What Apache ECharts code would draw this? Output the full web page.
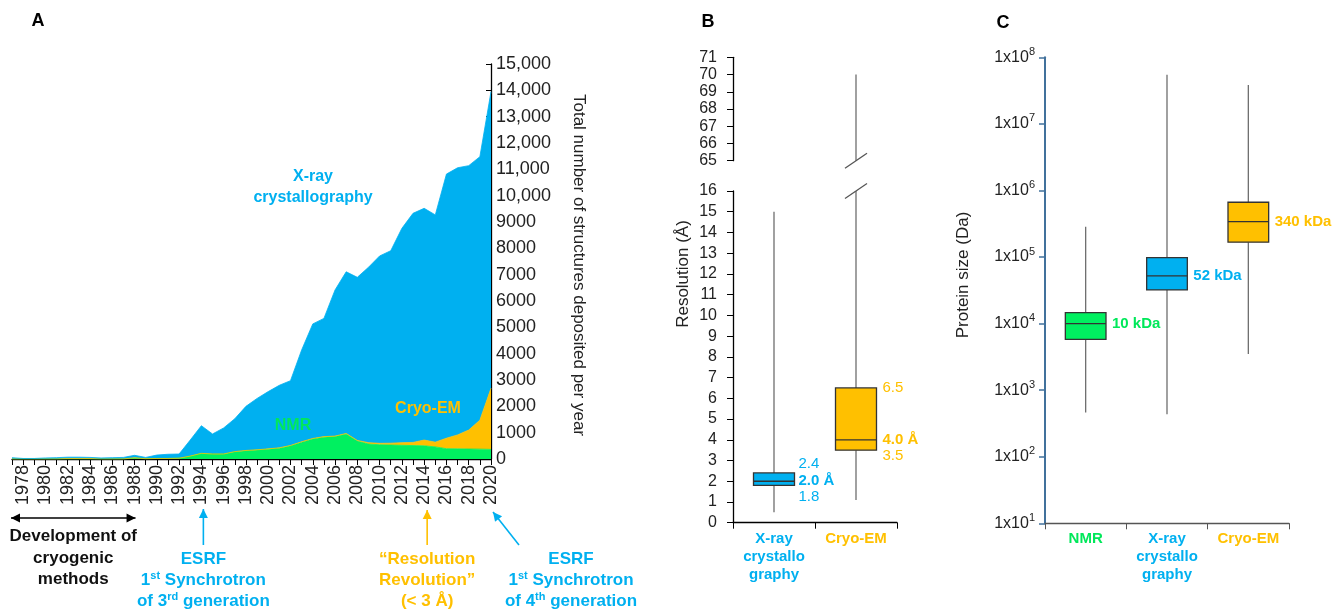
<!DOCTYPE html>
<html><head><meta charset="utf-8">
<script src="https://cdn.jsdelivr.net/npm/echarts@6/dist/echarts.min.js"></script>
<style>html,body{margin:0;padding:0;background:#fff}#c{width:1340px;height:614px}</style>
</head><body><div id="c"></div>
<script>
// ---------- Panel A data (structures deposited per year) ----------
const years = ['1977','1978','1979','1980','1981','1982','1983','1984','1985','1986','1987','1988','1989','1990','1991','1992','1993','1994','1995','1996','1997','1998','1999','2000','2001','2002','2003','2004','2005','2006','2007','2008','2009','2010','2011','2012','2013','2014','2015','2016','2017','2018','2019','2020'];
const nmr  = [0,0,0,0,0,0,0,0,0,0,0,30,10,20,20,30,110,215,190,190,280,315,340,370,410,500,640,760,830,850,950,680,570,540,530,520,510,500,460,390,385,380,375,365];
const cryo = [0,0,0,0,0,15,15,15,0,0,0,20,0,0,0,0,0,0,0,0,0,10,10,15,15,15,15,20,20,20,20,25,50,55,70,100,120,220,180,400,530,720,1100,2320];
const xray = [50,20,20,40,50,55,55,45,40,50,60,90,50,130,160,160,610,1050,760,990,1250,1675,1950,2175,2375,2460,3485,4350,4490,5550,6140,6195,6660,7115,7310,8140,8700,8800,8630,10030,10145,10040,10005,11265];

// ---------- Panel B data (resolution, Å): [min, q1, median, q3, max] ----------
const resCategories = ['X-ray\ncrystallo\ngraphy', 'Cryo-EM'];
const resXray = [0.5, 1.8, 2.0, 2.4, 15];
const resCryo = [1.1, 3.5, 4.0, 6.5, 70];
const resBreak = [16, 65];

// ---------- Panel C data (protein size, Da): [min, q1, median, q3, max] ----------
const sizeCategories = ['NMR', 'X-ray\ncrystallo\ngraphy', 'Cryo-EM'];
const sizeNmr  = [460, 5800, 10000, 14600, 286000];
const sizeXray = [436, 32000, 52000, 98000, 54800000];
const sizeCryo = [3500, 167000, 340000, 665000, 38400000];

const FONT = '"Liberation Sans", Arial, sans-serif';
const BLUE = '#00B0F0', GREEN = '#00F060', ORANGE = '#FFC000';
const GREEN_T = '#00E85A';
const resColors = [BLUE, ORANGE];
const sizeColors = [GREEN_T, BLUE, ORANGE];
const sizeFill = [GREEN, BLUE, ORANGE];

function boxRender(fills, yMax, labelFn) {
  return function (params, api) {
    const i = api.value(0);
    const v = [1, 2, 3, 4, 5].map(k => api.value(k));
    const cx = api.coord([i, v[2]])[0];
    const bw = api.size([1, v[2]])[0] * 0.5;
    const py = val => api.coord([i, val])[1];
    const top = yMax != null ? Math.min(v[4], yMax) : v[4];
    const wh = {stroke: '#6e6e6e', lineWidth: 1.3};
    const ch = [
      {type: 'line', shape: {x1: cx, y1: py(v[0]), x2: cx, y2: py(v[1])}, style: wh},
      {type: 'line', shape: {x1: cx, y1: py(v[3]), x2: cx, y2: py(top)}, style: wh},
      {type: 'rect', shape: {x: cx - bw / 2, y: py(v[3]), width: bw, height: py(v[1]) - py(v[3])},
       style: {fill: fills[i], stroke: '#333', lineWidth: 1.3}},
      {type: 'line', shape: {x1: cx - bw / 2, y1: py(v[2]), x2: cx + bw / 2, y2: py(v[2])}, style: {stroke: '#333', lineWidth: 1.3}}
    ];
    if (yMax != null && v[4] > yMax) {
      const y0 = py(yMax);
      ch.push({type: 'line', shape: {x1: cx - 11, y1: y0 + 7.5, x2: cx + 11, y2: y0 - 7.5}, style: {stroke: '#555', lineWidth: 1.3}});
    }
    labelFn(v, py, cx + bw / 2, i).forEach(l => ch.push({
      type: 'text', x: l.x, y: l.y,
      style: {text: l.text, fill: l.color, fontSize: 15, fontWeight: l.bold ? 'bold' : 'normal', fontFamily: FONT, align: 'left', verticalAlign: 'middle'}
    }));
    return {type: 'group', children: ch};
  };
}

function resLabels(v, py, right, i) {
  const c = resColors[i];
  const ym = py(v[2]);
  const x = right + (i === 0 ? 4 : 6);
  return [
    {text: v[3].toFixed(1), x, y: Math.min(py(v[3]), ym - 17), color: c},
    {text: v[2].toFixed(1) + ' Å', x, y: ym, color: c, bold: true},
    {text: v[1].toFixed(1), x, y: Math.max(py(v[1]), ym + 16), color: c}
  ];
}
function sizeLabels(v, py, right, i) {
  return [{text: Math.round(v[2] / 1000) + ' kDa', x: right + 6, y: py(v[2]), color: sizeColors[i], bold: true}];
}

const resData = [resXray, resCryo].map((d, i) => [i].concat(d));
const sizeData = [sizeNmr, sizeXray, sizeCryo].map((d, i) => [i].concat(d));
const resTopData = resData.filter(d => d[5] > resBreak[1]).map(d => [d[0], d[5]]);

const axisLbl = {fontFamily: FONT, color: '#222'};

const option = {
  animation: false,
  textStyle: {fontFamily: FONT},
  grid: [
    {left: 12, top: 64, width: 479, height: 395},
    {left: 733, top: 57.3, width: 164, height: 103.4},
    {left: 733, top: 191, width: 164, height: 331.7},
    {left: 1045, top: 57.3, width: 244, height: 466}
  ],
  xAxis: [
    {gridIndex: 0, type: 'category', data: years, boundaryGap: false,
     axisLine: {lineStyle: {color: '#000', width: 1.3}},
     axisTick: {interval: 0, length: 6, lineStyle: {color: '#000'}},
     axisLabel: Object.assign({interval: (i, v) => (+v) % 2 === 0, rotate: 90, fontSize: 18, margin: 6}, axisLbl)},
    {gridIndex: 1, type: 'category', data: resCategories, show: false},
    {gridIndex: 2, type: 'category', data: resCategories,
     axisLine: {lineStyle: {color: '#000', width: 1.3}},
     axisTick: {show: true, alignWithLabel: false, length: 6, lineStyle: {color: '#000'}},
     axisLabel: {fontFamily: FONT, fontSize: 15, fontWeight: 'bold', lineHeight: 18, margin: 7, color: (v, i) => resColors[i]}},
    {gridIndex: 3, type: 'category', data: sizeCategories,
     axisLine: {lineStyle: {color: '#555', width: 1.3}},
     axisTick: {show: true, alignWithLabel: false, length: 6, lineStyle: {color: '#555'}},
     axisLabel: {fontFamily: FONT, fontSize: 15, fontWeight: 'bold', lineHeight: 18, margin: 7, color: (v, i) => sizeColors[i]}}
  ],
  yAxis: [
    {gridIndex: 0, type: 'value', position: 'right', min: 0, max: 15000, interval: 1000,
     axisLine: {show: true, lineStyle: {color: '#000', width: 1.3}},
     axisTick: {show: true, inside: true, length: 5, lineStyle: {color: '#000'}}, splitLine: {show: false},
     axisLabel: Object.assign({fontSize: 18, margin: 5, formatter: v => v >= 10000 ? v.toLocaleString('en-US') : String(v)}, axisLbl)},
    {gridIndex: 1, type: 'value', min: resBreak[1], max: 71, interval: 1,
     axisLine: {show: true, lineStyle: {color: '#000', width: 1.3}},
     axisTick: {show: true, length: 6, lineStyle: {color: '#000'}}, splitLine: {show: false},
     axisLabel: Object.assign({fontSize: 16, margin: 16}, axisLbl)},
    {gridIndex: 2, type: 'value', min: 0, max: resBreak[0], interval: 1,
     axisLine: {show: true, lineStyle: {color: '#000', width: 1.3}},
     axisTick: {show: true, length: 6, lineStyle: {color: '#000'}}, splitLine: {show: false},
     axisLabel: Object.assign({fontSize: 16, margin: 16}, axisLbl)},
    {gridIndex: 3, type: 'log', logBase: 10, min: 10, max: 1e8, splitNumber: 7,
     axisLine: {show: true, lineStyle: {color: '#41719C', width: 2}},
     axisTick: {show: true, length: 6, lineStyle: {color: '#41719C', width: 1.5}}, splitLine: {show: false},
     axisLabel: Object.assign({fontSize: 16, lineHeight: 22, margin: 10,
       formatter: v => '1x10{sup|' + Math.round(Math.log10(v)) + '}',
       rich: {sup: {fontSize: 11, lineHeight: 11, verticalAlign: 'top', color: '#222', fontFamily: FONT}}}, axisLbl)}
  ],
  series: [
    {type: 'line', name: 'NMR', xAxisIndex: 0, yAxisIndex: 0, stack: 'pdb', data: nmr, symbol: 'none',
     lineStyle: {width: 0.8, color: GREEN}, itemStyle: {color: GREEN}, areaStyle: {color: GREEN, opacity: 1}},
    {type: 'line', name: 'Cryo-EM', xAxisIndex: 0, yAxisIndex: 0, stack: 'pdb', data: cryo, symbol: 'none',
     lineStyle: {width: 0.8, color: ORANGE}, itemStyle: {color: ORANGE}, areaStyle: {color: ORANGE, opacity: 1}},
    {type: 'line', name: 'X-ray', xAxisIndex: 0, yAxisIndex: 0, stack: 'pdb', data: xray, symbol: 'none',
     lineStyle: {width: 0.8, color: BLUE}, itemStyle: {color: BLUE}, areaStyle: {color: BLUE, opacity: 1}},
    {type: 'custom', xAxisIndex: 2, yAxisIndex: 2, data: resData,
     renderItem: boxRender(resColors, resBreak[0], resLabels)},
    {type: 'custom', xAxisIndex: 1, yAxisIndex: 1, data: resTopData,
     renderItem: function (params, api) {
       const i = api.value(0), mx = api.value(1);
       const p1 = api.coord([i, resBreak[1]]), p2 = api.coord([i, mx]);
       return {type: 'group', children: [
         {type: 'line', shape: {x1: p1[0], y1: p1[1], x2: p2[0], y2: p2[1]}, style: {stroke: '#6e6e6e', lineWidth: 1.3}},
         {type: 'line', shape: {x1: p1[0] - 11, y1: p1[1] + 7.5, x2: p1[0] + 11, y2: p1[1] - 7.5}, style: {stroke: '#555', lineWidth: 1.3}}
       ]};
     }},
    {type: 'custom', xAxisIndex: 3, yAxisIndex: 3, data: sizeData,
     renderItem: boxRender(sizeFill, null, sizeLabels)}
  ]
};

const chart = echarts.init(document.getElementById('c'), null, {renderer: 'canvas'});
chart.setOption(option);

// ---------- annotations ----------
const px = y => chart.convertToPixel({xAxisIndex: 0, yAxisIndex: 0}, [y, 0])[0];
function arrowHead(x, y, ang, color) {
  const L = 9, W = 4.5;
  const bx = x - L * Math.cos(ang), by = y - L * Math.sin(ang);
  const nx = -Math.sin(ang) * W, ny = Math.cos(ang) * W;
  return {type: 'polygon', z: 100, shape: {points: [[x, y], [bx + nx, by + ny], [bx - nx, by - ny]]}, style: {fill: color}};
}
function arrow(x1, y1, x2, y2, color, both) {
  const ang = Math.atan2(y2 - y1, x2 - x1);
  const els = [{type: 'line', z: 100, shape: {x1, y1, x2, y2}, style: {stroke: color, lineWidth: 1.6}}, arrowHead(x2, y2, ang, color)];
  if (both) els.push(arrowHead(x1, y1, ang + Math.PI, color));
  return els;
}
function txt(x, y, text, color, size, bold, extra) {
  return {type: 'text', z: 100, x, y, style: Object.assign({
    text, fill: color, fontSize: size, fontWeight: bold ? 'bold' : 'normal', fontFamily: FONT,
    align: 'center', verticalAlign: 'middle'}, extra || {})};
}
const sup = c => ({s: {fontSize: 11, lineHeight: 11, verticalAlign: 'top', fill: c, fontWeight: 'bold', fontFamily: FONT}});

const x77 = px('1977'), x88 = px('1988'), x94 = px('1994'), x14 = px('2014'), x20 = px('2020');
const g = [];
g.push(txt(38, 21, 'A', '#000', 18, true));
g.push(txt(708, 22, 'B', '#000', 18, true));
g.push(txt(1003, 23, 'C', '#000', 18, true));
g.push(txt(313, 187, 'X-ray\ncrystallography', BLUE, 16, true, {lineHeight: 21.5}));
g.push(txt(293, 426, 'NMR', GREEN_T, 16, true));
g.push(txt(428, 409, 'Cryo-EM', ORANGE, 16, true));
g.push(Object.assign(txt(579, 265, 'Total number of structures deposited per year', '#222', 17, false), {rotation: -Math.PI / 2}));
g.push(Object.assign(txt(683, 274, 'Resolution (Å)', '#222', 17, false), {rotation: Math.PI / 2}));
g.push(Object.assign(txt(963, 275, 'Protein size (Da)', '#222', 17, false), {rotation: Math.PI / 2}));
arrow(x77 - 1, 518, x88 + 1, 518, '#000', true).forEach(e => g.push(e));
g.push(txt((x77 + x88) / 2, 526, 'Development of\ncryogenic\nmethods', '#111', 17, true, {lineHeight: 21.5, verticalAlign: 'top'}));
arrow(x94 + 2, 545, x94 + 2, 509, BLUE).forEach(e => g.push(e));
g.push(txt(x94 + 2, 549, 'ESRF\n1{s|st} Synchrotron\nof 3{s|rd} generation', BLUE, 17, true, {lineHeight: 21, verticalAlign: 'top', rich: sup(BLUE)}));
arrow(x14 + 3, 545, x14 + 3, 510, ORANGE).forEach(e => g.push(e));
g.push(txt(x14 + 3, 549, '“Resolution\nRevolution”\n(< 3 Å)', ORANGE, 17, true, {lineHeight: 21, verticalAlign: 'top'}));
arrow(x20 + 28, 545, x20 + 2, 512, BLUE).forEach(e => g.push(e));
g.push(txt(571, 549, 'ESRF\n1{s|st} Synchrotron\nof 4{s|th} generation', BLUE, 17, true, {lineHeight: 21, verticalAlign: 'top', rich: sup(BLUE)}));
chart.setOption({graphic: g});
</script></body></html>
